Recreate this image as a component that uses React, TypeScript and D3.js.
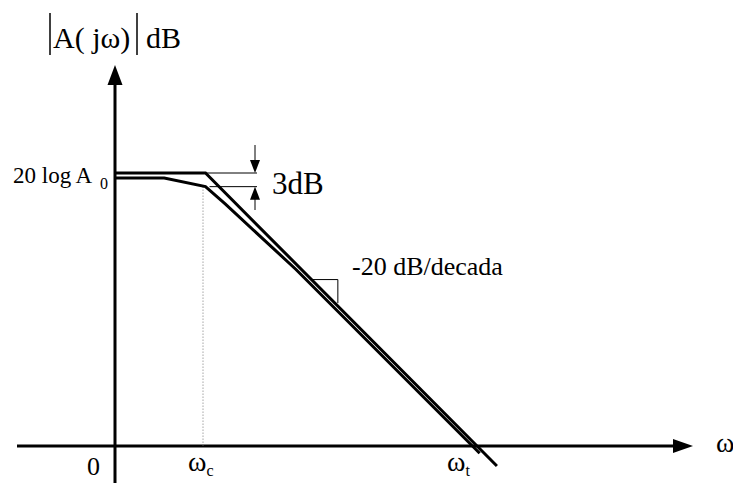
import React, { useEffect, useRef } from 'react';
import * as d3 from 'd3';

// Bode magnitude plot of a single-pole amplifier
const A0_DB = 60; // 20 log A0
const OMEGA_C = 1; // corner frequency
const OMEGA_T = 1000; // unity-gain frequency

// asymptotic (straight-line) approximation
const asymptoteW = [0.1, OMEGA_C, 1660];
const asymptoteDb = [60, 60, -4.4];

// real response, hand-drawn curve
const responseW = [0.1, 0.35, 1, 1.65, 10, 1070];
const responseDb = [58.9, 58.9, 57, 53.2, 38.8, -1.6];

// slope marker triangle (one stretch of the -20 dB/decade line)
const slopeW = [16, 29];

const W = 733;
const H = 483;

interface Pt { w: number; db: number }

const zip = (ws: number[], dbs: number[]): Pt[] => ws.map((w, i) => ({ w, db: dbs[i] }));

export default function App() {
  const svgRef = useRef<SVGSVGElement>(null);

  useEffect(() => {
    if (!svgRef.current) return;
    const svg = d3.select(svgRef.current);
    svg.selectAll('*').remove();

    const x = d3.scaleLog().domain([0.1, OMEGA_T]).range([115, 477]);
    const y = d3.scaleLinear().domain([0, A0_DB]).range([446, 173]);

    const serif = 'Liberation Serif, Times New Roman, serif';
    const x0 = x(0.1);
    const yZero = y(0);

    const label = (px: number, py: number, size: number) =>
      svg.append('text')
        .attr('x', px).attr('y', py)
        .attr('font-family', serif)
        .attr('font-size', size)
        .attr('fill', '#000');

    // axes
    svg.append('line')
      .attr('x1', 17).attr('y1', yZero)
      .attr('x2', 680).attr('y2', yZero)
      .style('stroke', '#000').style('stroke-width', 3);
    svg.append('path')
      .attr('d', `M673,${yZero - 7}L693,${yZero}L673,${yZero + 7}Z`)
      .style('fill', '#000');

    svg.append('line')
      .attr('x1', x0).attr('y1', H)
      .attr('x2', x0).attr('y2', 78)
      .style('stroke', '#000').style('stroke-width', 3);
    svg.append('path')
      .attr('d', `M${x0 - 7.5},85L${x0},65L${x0 + 7.5},85Z`)
      .style('fill', '#000');

    // dotted marker at omega_c
    svg.append('line')
      .attr('x1', x(OMEGA_C) - 2.5).attr('y1', y(57))
      .attr('x2', x(OMEGA_C) - 2.5).attr('y2', yZero)
      .style('stroke', '#777').style('stroke-width', 1)
      .style('stroke-dasharray', '1,2');

    const line = d3.line<Pt>().x(d => x(d.w)).y(d => y(d.db));

    svg.append('path')
      .datum(zip(asymptoteW, asymptoteDb))
      .attr('d', line)
      .style('fill', 'none').style('stroke', '#000').style('stroke-width', 3);

    svg.append('path')
      .datum(zip(responseW, responseDb))
      .attr('d', line)
      .style('fill', 'none').style('stroke', '#000').style('stroke-width', 3);

    // 3 dB annotation
    const arrowX = 255;
    const yTop = y(A0_DB);
    const yBot = y(A0_DB - 3);
    svg.append('line')
      .attr('x1', x(OMEGA_C)).attr('y1', yTop).attr('x2', arrowX + 2).attr('y2', yTop)
      .style('stroke', '#000').style('stroke-width', 1);
    svg.append('line')
      .attr('x1', x(OMEGA_C) + 4).attr('y1', yBot).attr('x2', arrowX + 2).attr('y2', yBot)
      .style('stroke', '#000').style('stroke-width', 1);
    svg.append('line')
      .attr('x1', arrowX).attr('y1', 145).attr('x2', arrowX).attr('y2', yTop - 10)
      .style('stroke', '#000').style('stroke-width', 1);
    svg.append('path')
      .attr('d', `M${arrowX - 5},${yTop - 13}L${arrowX},${yTop}L${arrowX + 5},${yTop - 13}Z`)
      .style('fill', '#000');
    svg.append('line')
      .attr('x1', arrowX).attr('y1', yBot + 10).attr('x2', arrowX).attr('y2', 210)
      .style('stroke', '#000').style('stroke-width', 1);
    svg.append('path')
      .attr('d', `M${arrowX - 5},${yBot + 13}L${arrowX},${yBot}L${arrowX + 5},${yBot + 13}Z`)
      .style('fill', '#000');

    label(272, 194, 31).text('3dB');

    // slope triangle
    const asym = d3.scaleLog().domain([OMEGA_C, OMEGA_T]).range([A0_DB, 0]);
    const tx0 = x(slopeW[0]) - 2;
    const tx1 = x(slopeW[1]);
    const ty0 = y(asym(slopeW[0])) - 3;
    const ty1 = y(asym(slopeW[1])) - 3;
    svg.append('path')
      .attr('d', `M${tx0},${ty0}L${tx1},${ty0}L${tx1},${ty1}`)
      .style('fill', 'none').style('stroke', '#000').style('stroke-width', 1);

    label(352, 275, 26).text('-20 dB/decada');

    // y label: 20 log A0
    const a0 = label(13, 183, 23);
    a0.append('tspan').text('20 log A');
    a0.append('tspan').attr('x', 100).attr('y', 189).attr('font-size', 16).text('0');

    // header |A(jω)| dB
    svg.append('line').attr('x1', 50).attr('y1', 13).attr('x2', 50).attr('y2', 55)
      .style('stroke', '#000').style('stroke-width', 1.5);
    svg.append('line').attr('x1', 137).attr('y1', 13).attr('x2', 137).attr('y2', 55)
      .style('stroke', '#000').style('stroke-width', 1.5);
    label(53, 48, 30).text('A( jω)');
    label(146, 48, 30).text('dB');

    // axis labels
    label(87, 475, 26).text('0');

    const omega = (px: number, py: number, sub: string) => {
      const t = label(px, py, 28);
      t.append('tspan').text('ω');
      if (sub) t.append('tspan').attr('dy', 5).attr('font-size', 16).text(sub);
    };
    omega(188, 471, 'c');
    omega(447, 471, 't');
    omega(716, 452, '');
  }, []);

  return (
    <svg
      ref={svgRef}
      width={W}
      height={H}
      style={{ position: 'absolute', left: 0, top: 0, background: '#fff' }}
    />
  );
}
